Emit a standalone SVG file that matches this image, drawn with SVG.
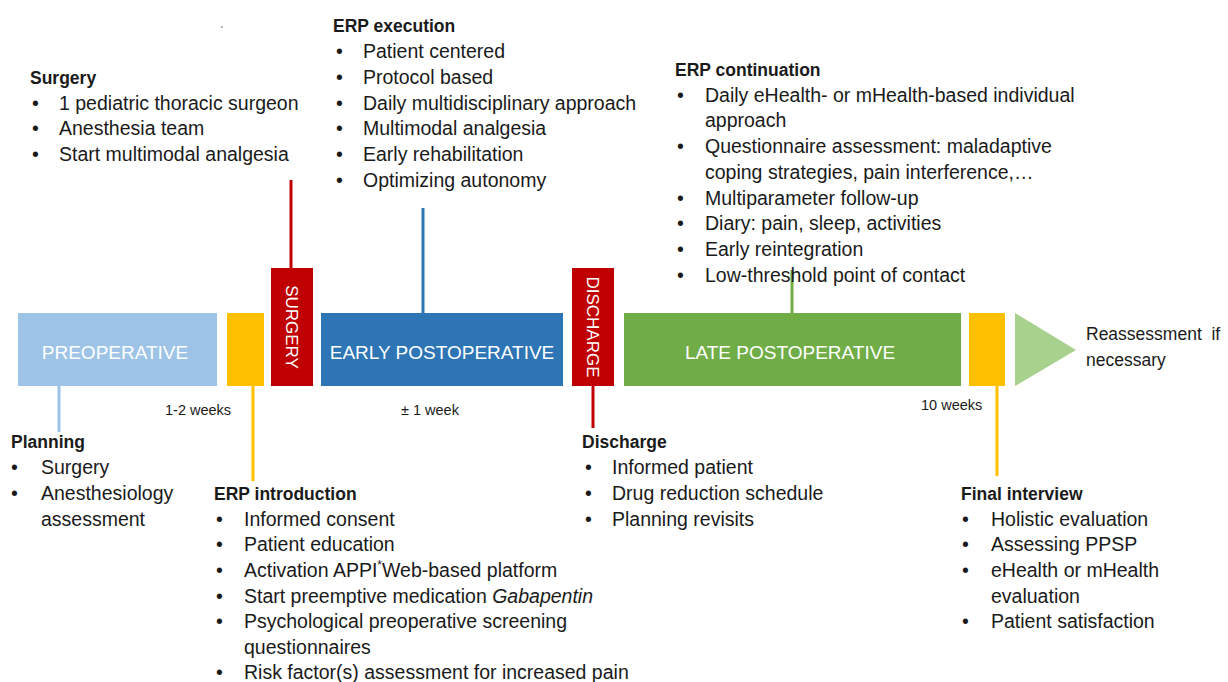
<svg xmlns="http://www.w3.org/2000/svg" width="1228" height="682" viewBox="0 0 1228 682">
<style>
text{font-family:"Liberation Sans",Arial,sans-serif;fill:#1a1a1a;white-space:pre}
.b{font-size:19.5px}
.h{font-size:17.5px;font-weight:bold}
.bar{font-size:19px;fill:#ffffff}
.vert{font-size:17px;fill:#ffffff}
.sm{font-size:14.5px}
.ln{stroke-width:3;fill:none}
</style>
<rect width="1228" height="682" fill="#ffffff"/>
<circle cx="222" cy="27" r="0.8" fill="#555"/>
<g id="connectors">
  <line class="ln" x1="291" y1="180" x2="291" y2="268" stroke="#C00000"/>
  <line class="ln" x1="423" y1="208" x2="423" y2="313" stroke="#2E75B6"/>
  <line class="ln" x1="792" y1="270" x2="792" y2="313" stroke="#70AD47"/>
  <line class="ln" x1="59" y1="386" x2="59" y2="432" stroke="#9DC3E6"/>
  <line class="ln" x1="253" y1="386" x2="253" y2="481" stroke="#FFC000"/>
  <line class="ln" x1="593" y1="386" x2="593" y2="428" stroke="#C00000"/>
  <line class="ln" x1="997" y1="386" x2="997" y2="476" stroke="#FFC000"/>
</g>
<g id="preoperative">
  <rect x="18" y="313" width="199" height="73" fill="#9DC3E6"/>
  <text class="bar" x="115" y="359" text-anchor="middle">PREOPERATIVE</text>
</g>
<g id="erp-intro-marker">
  <rect x="227" y="313" width="37" height="73" fill="#FFC000"/>
</g>
<g id="surgery">
  <rect x="271" y="268" width="42" height="118" fill="#C00000"/>
  <text class="vert" transform="translate(286,327) rotate(90)" text-anchor="middle">SURGERY</text>
</g>
<g id="early-postoperative">
  <rect x="321" y="313" width="242" height="73" fill="#2E75B6"/>
  <text class="bar" x="442" y="359" text-anchor="middle">EARLY POSTOPERATIVE</text>
</g>
<g id="discharge">
  <rect x="572" y="268" width="42" height="118" fill="#C00000"/>
  <text class="vert" transform="translate(587,327) rotate(90)" text-anchor="middle">DISCHARGE</text>
</g>
<g id="late-postoperative">
  <rect x="624" y="313" width="337" height="73" fill="#70AD47"/>
  <text class="bar" x="790" y="359" text-anchor="middle">LATE POSTOPERATIVE</text>
</g>
<g id="final-marker">
  <rect x="969" y="313" width="36" height="73" fill="#FFC000"/>
</g>
<g id="reassessment">
  <polygon points="1015,313 1076,350 1015,386" fill="#A9D18E"/>
  <text class="b" x="1086" y="340" style="font-size:17.5px">Reassessment  if</text>
  <text class="b" x="1086" y="366" style="font-size:17.5px">necessary</text>
</g>
<g id="durations">
  <text class="sm" x="165" y="415">1-2 weeks</text>
  <text class="sm" x="401" y="415">± 1 week</text>
  <text class="sm" x="921" y="410">10 weeks</text>
</g>
<g id="surgery-notes">
  <text class="h" x="30" y="84">Surgery</text>
  <text class="b" x="32" y="110">•</text><text class="b" x="59" y="110">1 pediatric thoracic surgeon</text>
  <text class="b" x="32" y="135">•</text><text class="b" x="59" y="135">Anesthesia team</text>
  <text class="b" x="32" y="161">•</text><text class="b" x="59" y="161">Start multimodal analgesia</text>
</g>
<g id="erp-execution">
  <text class="h" x="333" y="32">ERP execution</text>
  <text class="b" x="336" y="58">•</text><text class="b" x="363" y="58">Patient centered</text>
  <text class="b" x="336" y="84">•</text><text class="b" x="363" y="84">Protocol based</text>
  <text class="b" x="336" y="110">•</text><text class="b" x="363" y="110">Daily multidisciplinary approach</text>
  <text class="b" x="336" y="135">•</text><text class="b" x="363" y="135">Multimodal analgesia</text>
  <text class="b" x="336" y="161">•</text><text class="b" x="363" y="161">Early rehabilitation</text>
  <text class="b" x="336" y="187">•</text><text class="b" x="363" y="187">Optimizing autonomy</text>
</g>
<g id="erp-continuation">
  <text class="h" x="675" y="76">ERP continuation</text>
  <text class="b" x="677" y="102">•</text><text class="b" x="705" y="102">Daily eHealth- or mHealth-based individual</text>
  <text class="b" x="705" y="127">approach</text>
  <text class="b" x="677" y="153">•</text><text class="b" x="705" y="153">Questionnaire assessment: maladaptive</text>
  <text class="b" x="705" y="179">coping strategies, pain interference,…</text>
  <text class="b" x="677" y="205">•</text><text class="b" x="705" y="205">Multiparameter follow-up</text>
  <text class="b" x="677" y="230">•</text><text class="b" x="705" y="230">Diary: pain, sleep, activities</text>
  <text class="b" x="677" y="256">•</text><text class="b" x="705" y="256">Early reintegration</text>
  <text class="b" x="677" y="282">•</text><text class="b" x="705" y="282">Low-threshold point of contact</text>
</g>
<g id="planning">
  <text class="h" x="11" y="448">Planning</text>
  <text class="b" x="11" y="474">•</text><text class="b" x="41" y="474">Surgery</text>
  <text class="b" x="11" y="500">•</text><text class="b" x="41" y="500">Anesthesiology</text>
  <text class="b" x="41" y="526">assessment</text>
</g>
<g id="erp-introduction">
  <text class="h" x="214" y="500">ERP introduction</text>
  <text class="b" x="216" y="526">•</text><text class="b" x="244" y="526">Informed consent</text>
  <text class="b" x="216" y="551">•</text><text class="b" x="244" y="551">Patient education</text>
  <text class="b" x="216" y="577">•</text><text class="b" x="244" y="577">Activation APPI<tspan font-size="12" dy="-8">*</tspan><tspan dy="8">Web-based platform</tspan></text>
  <text class="b" x="216" y="603">•</text><text class="b" x="244" y="603">Start preemptive medication <tspan font-style="italic">Gabapentin</tspan></text>
  <text class="b" x="216" y="628">•</text><text class="b" x="244" y="628">Psychological preoperative screening</text>
  <text class="b" x="244" y="654">questionnaires</text>
  <text class="b" x="216" y="679">•</text><text class="b" x="244" y="679">Risk factor(s) assessment for increased pain</text>
</g>
<g id="discharge-notes">
  <text class="h" x="582" y="448">Discharge</text>
  <text class="b" x="585" y="474">•</text><text class="b" x="612" y="474">Informed patient</text>
  <text class="b" x="585" y="500">•</text><text class="b" x="612" y="500">Drug reduction schedule</text>
  <text class="b" x="585" y="526">•</text><text class="b" x="612" y="526">Planning revisits</text>
</g>
<g id="final-interview">
  <text class="h" x="961" y="500">Final interview</text>
  <text class="b" x="962" y="526">•</text><text class="b" x="991" y="526">Holistic evaluation</text>
  <text class="b" x="962" y="551">•</text><text class="b" x="991" y="551">Assessing PPSP</text>
  <text class="b" x="962" y="577">•</text><text class="b" x="991" y="577">eHealth or mHealth</text>
  <text class="b" x="991" y="603">evaluation</text>
  <text class="b" x="962" y="628">•</text><text class="b" x="991" y="628">Patient satisfaction</text>
</g>
</svg>
